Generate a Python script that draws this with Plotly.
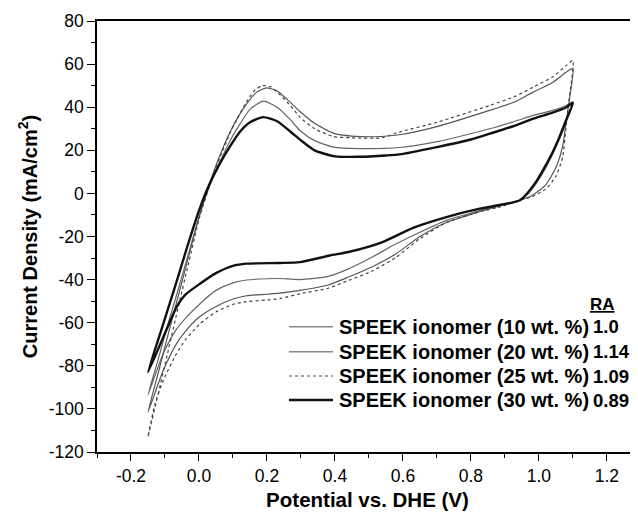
import plotly.graph_objects as go

# ---- data ----
series_names = ["SPEEK ionomer (10 wt. %)", "SPEEK ionomer (20 wt. %)",
                "SPEEK ionomer (25 wt. %)", "SPEEK ionomer (30 wt. %)"]
ra_values = ["1.0", "1.14", "1.09", "0.89"]

# 10 wt.% (thin solid)
v10 = [-0.15, -0.12, -0.09, -0.06, -0.03, 0.0, 0.03, 0.06, 0.09, 0.12, 0.15, 0.189, 0.23, 0.27, 0.297, 0.34,
       0.395, 0.47, 0.59, 0.70, 0.855, 0.93, 0.983, 1.04, 1.081, 1.10,
       1.08, 1.06, 1.04, 1.01, 0.97, 0.944, 0.88, 0.826, 0.728, 0.65, 0.58, 0.51, 0.44, 0.38, 0.297, 0.238,
       0.199, 0.14, 0.10, 0.05, 0.003, -0.04, -0.066, -0.105, -0.15]
j10 = [-93.5, -77, -60, -44, -27.5, -11, 3, 14, 24, 32, 39, 42.8, 40, 34, 29.2, 24.5,
       21.5, 20.8, 21.3, 24, 30, 33.5, 36.2, 38.5, 40.8, 42.5,
       33, 25, 18, 9, 0, -3.2, -5.5, -8, -12.5, -18, -23.4, -29.5, -35, -38.5, -40, -39.5,
       -39.6, -40.2, -41.5, -45, -51.2, -58, -63, -74.3, -93.5]

# 20 wt.% (thin solid)
v20 = [-0.15, -0.12, -0.09, -0.06, -0.03, 0.0, 0.03, 0.06, 0.09, 0.11, 0.14, 0.17, 0.199, 0.23, 0.26, 0.297,
       0.34, 0.395, 0.45, 0.537, 0.59, 0.70, 0.855, 0.93, 0.983, 1.04, 1.081, 1.10,
       1.09, 1.08, 1.07, 1.05, 1.02, 0.98, 0.944, 0.88, 0.826, 0.728, 0.65, 0.58, 0.51, 0.44, 0.38, 0.297,
       0.238, 0.199, 0.14, 0.10, 0.05, 0.0, -0.04, -0.066, -0.105, -0.15]
j20 = [-101.5, -83.4, -65, -47, -29, -11, 4, 17, 28, 34, 41.5, 47, 49, 47.5, 43.5, 38,
       32.5, 28, 26.6, 26.4, 27.2, 31, 38.5, 42.5, 47, 51.5, 56.3, 58,
       44, 33, 22, 12, 4, -1, -3.2, -6, -8.5, -13.5, -20, -28, -34, -38.8, -42.5, -45,
       -46.3, -46.8, -47.5, -49, -52.5, -57.5, -64, -69.7, -82.1, -101.5]

# 25 wt.% (dotted)
v25 = [-0.15, -0.12, -0.09, -0.06, -0.03, 0.0, 0.03, 0.06, 0.09, 0.11, 0.14, 0.165, 0.186, 0.21,
       0.24, 0.27, 0.297, 0.34, 0.395, 0.45, 0.537, 0.59, 0.70, 0.855, 0.93, 0.983, 1.04, 1.081, 1.10,
       1.09, 1.08, 1.07, 1.05, 1.02, 0.98, 0.944, 0.88, 0.826, 0.728, 0.65, 0.58, 0.51, 0.44, 0.38, 0.297,
       0.238, 0.199, 0.14, 0.10, 0.05, 0.003, -0.04, -0.066, -0.105, -0.13, -0.15]
j25 = [-113, -93, -72.5, -52, -32, -12, 3, 16, 27.5, 34, 42.5, 48, 50, 49.5,
       45.5, 40.5, 35.4, 30, 26.4, 25.8, 25.8, 28.5, 33, 40.8, 45, 49.3, 54, 59.4, 61.7,
       45, 31, 17, 8, 2, -1.5, -3.2, -6.5, -8.5, -13.5, -21, -29.6, -36, -40.4, -44, -46.6,
       -48.8, -49.5, -50.2, -51.5, -55, -60.5, -68, -74.3, -86.8, -98, -113]

# 30 wt.% (thick solid)
v30 = [-0.15, -0.11, -0.07, -0.035, 0.0, 0.03, 0.06, 0.09, 0.12, 0.15, 0.189, 0.23, 0.27, 0.30, 0.34,
       0.40, 0.47, 0.55, 0.59, 0.70, 0.80, 0.855, 0.93, 0.983, 1.04, 1.081, 1.10,
       1.08, 1.06, 1.04, 1.02, 0.99, 0.944, 0.88, 0.826, 0.728, 0.63, 0.54, 0.44, 0.385, 0.297, 0.238,
       0.14, 0.10, 0.05, 0.003, -0.04, -0.066, -0.105, -0.15]
j30 = [-83, -63, -43, -25, -8, 4, 13.5, 21.5, 28.5, 33, 35.4, 33.5, 28.5, 24.6, 20,
       17.2, 17, 17.6, 18.1, 21.5, 25, 27.7, 31.5, 34.7, 37.5, 40, 42,
       34, 26, 19, 13, 5, -3.2, -5.5, -7.1, -11, -16, -22.6, -27.2, -28.8, -31.9, -32.3,
       -32.6, -33.6, -37, -41.9, -47, -52.8, -66.7, -83]

x_tickvals = [-0.2, 0.0, 0.2, 0.4, 0.6, 0.8, 1.0, 1.2]
x_ticktext = ["-0.2", "0.0", "0.2", "0.4", "0.6", "0.8", "1.0", "1.2"]
y_tickvals = [-120, -100, -80, -60, -40, -20, 0, 20, 40, 60, 80]
y_ticktext = ["-120", "-100", "-80", "-60", "-40", "-20", "0", "20", "40", "60", "80"]

FONT = "Liberation Sans, Arial, Helvetica, sans-serif"

styles = [
    dict(color="#666666", width=1.2, dash="solid"),
    dict(color="#555555", width=1.2, dash="solid"),
    dict(color="#444444", width=1.2, dash="dot"),
    dict(color="#111111", width=2.4, dash="solid"),
]

fig = go.Figure()
for name, vx, jy, st in zip(series_names, [v10, v20, v25, v30], [j10, j20, j25, j30], styles):
    fig.add_trace(go.Scatter(x=vx, y=jy, mode="lines", name=name, showlegend=False,
                             line=dict(color=st["color"], width=st["width"], dash=st["dash"],
                                       shape="spline", smoothing=0.6)))

# page is shown with an 8px body margin -> work in page pixels, convert to figure coords
OFF = 8
W, H = 638 - OFF, 517 - OFF
ML, MR, MT, MB = 89, 0, 13, 65
pw, ph = W - ML - MR, H - MT - MB

def px_to_paper(px, py):
    return ((px - OFF) - ML) / pw, ((H - MB) - (py - OFF)) / ph

fig.update_layout(
    width=W, height=H,
    margin=dict(l=ML, r=MR, t=MT, b=MB, autoexpand=False),
    paper_bgcolor="white", plot_bgcolor="white",
    font=dict(family=FONT, color="black", size=17.5),
    showlegend=False,
)

fig.update_xaxes(
    range=[-0.30, 1.2915], showgrid=False, zeroline=False,
    showline=True, linecolor="black", linewidth=1.5, mirror=True,
    ticks="outside", ticklen=7, tickwidth=1.3, tickcolor="black",
    tickvals=x_tickvals, ticktext=x_ticktext,
    tickfont=dict(family=FONT, size=17.5, color="black"),
    minor=dict(dtick=0.1, tick0=0, ticks="outside", ticklen=4, tickwidth=1.3, tickcolor="black"),
    title=dict(text="Potential vs. DHE (V)", standoff=8,
               font=dict(family=FONT, size=20.5, color="black", weight="bold")),
)
fig.update_yaxes(
    range=[-120, 80], showgrid=False, zeroline=False,
    showline=True, linecolor="black", linewidth=1.5, mirror=False,
    ticks="outside", ticklen=8, tickwidth=1.3, tickcolor="black",
    tickvals=y_tickvals, ticktext=y_ticktext,
    tickfont=dict(family=FONT, size=17.5, color="black"),
    minor=dict(dtick=10, tick0=0, ticks="outside", ticklen=4, tickwidth=1.3, tickcolor="black"),
    title=dict(text="Current Density (mA/cm<sup>2</sup>)", standoff=6,
               font=dict(family=FONT, size=20, color="black", weight="bold")),
)

# manual legend (line samples + labels) and RA column
row_y = [326.7, 351.7, 376.0, 400.0]
for name, st, ry in zip(series_names, styles, row_y):
    x0, y0 = px_to_paper(289, ry)
    x1, _ = px_to_paper(333, ry)
    fig.add_shape(type="line", xref="paper", yref="paper", x0=x0, x1=x1, y0=y0, y1=y0,
                  line=dict(color="#888888" if st["width"] < 2 else "#111111",
                            width=st["width"] + 0.3, dash=st["dash"]))
    tx, ty = px_to_paper(337, ry)
    fig.add_annotation(x=tx, y=ty, xref="paper", yref="paper", text=name, showarrow=False,
                       xanchor="left", yanchor="middle",
                       font=dict(family=FONT, size=20, color="black", weight="bold"))

hx, hy = px_to_paper(602, 305)
fig.add_annotation(x=hx, y=hy, xref="paper", yref="paper",
                   text="<span style='text-decoration:underline'>RA</span>", showarrow=False,
                   xanchor="center", yanchor="middle",
                   font=dict(family=FONT, size=17, color="black", weight="bold"))
for val, ry in zip(ra_values, row_y):
    vx_, vy_ = px_to_paper(591, ry)
    fig.add_annotation(x=vx_, y=vy_, xref="paper", yref="paper", text=val, showarrow=False,
                       xanchor="left", yanchor="middle",
                       font=dict(family=FONT, size=18.5, color="black", weight="bold"))

fig.write_html("out.html")
